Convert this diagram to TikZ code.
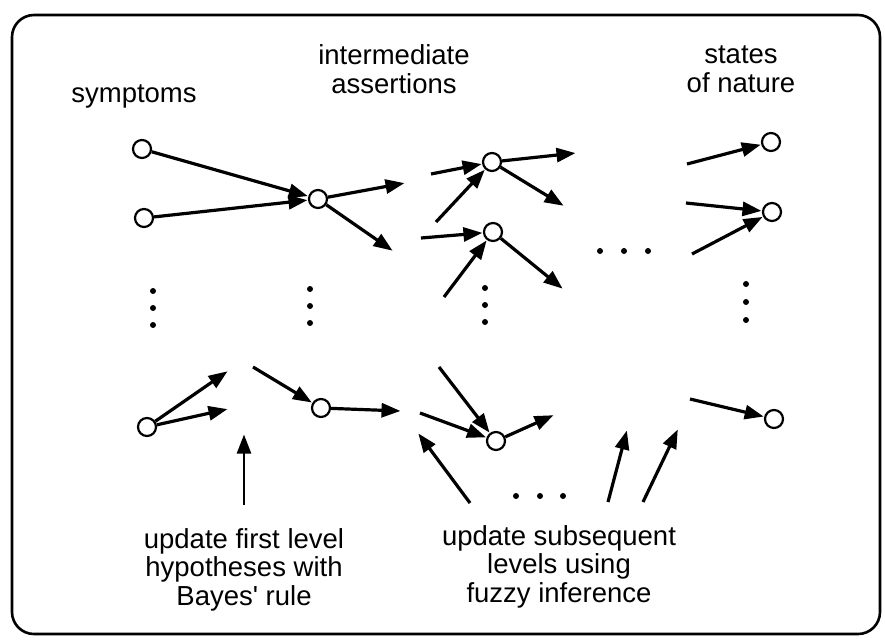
\documentclass[tikz,border=0pt]{standalone}
\usepackage{fontspec}
\setmainfont{Liberation Sans}[Ligatures=TeXOff]
\usetikzlibrary{arrows.meta}
\begin{document}
\begin{tikzpicture}[x=1pt,y=-1pt,
  hyp/.style={circle,draw,line width=2.2pt,fill=white,inner sep=0pt,minimum size=18pt},
  link/.style={line width=3.2pt,-{Triangle[length=19pt,width=14pt]},shorten >=0.5pt},
  lbl/.style={font=\fontsize{27.5}{28.5}\selectfont,align=center,anchor=base,inner sep=0pt},
  dotmark/.style={circle,fill,inner sep=0pt,minimum size=6pt}]
\useasboundingbox (0,0) rectangle (885,640);
\draw[line width=2.6pt,rounded corners=22pt] (12,15) rectangle (880,634);

% headings (base anchor = baseline of the last line)
\node[lbl] (hsym) at (134,102) {symptoms};
\node[lbl] (hint) at (394,93) {intermediate\\assertions};
\node[lbl] (hnat) at (741,92) {states\\of nature};
\node[lbl] (lbayes) at (244,605) {update first level\\hypotheses with\\Bayes' rule};
\node[lbl] (lfuzzy) at (559,602) {update subsequent\\levels using\\fuzzy inference};

% nodes
\node[hyp] (S1) at (142,149) {};
\node[hyp] (S2) at (144,218) {};
\node[hyp] (S3) at (147,427) {};
\node[hyp] (I1) at (318,199) {};
\node[hyp] (I2) at (321,408) {};
\node[hyp] (A1) at (492,162) {};
\node[hyp] (A2) at (493,232) {};
\node[hyp] (A3) at (496,441) {};
\node[hyp] (N1) at (771,142) {};
\node[hyp] (N2) at (772,212) {};
\node[hyp] (N3) at (774,419) {};

% free ends
\coordinate (i1a) at (405,183);
\coordinate (i1b) at (393,251);
\coordinate (s3a) at (228,371);
\coordinate (s3b) at (228,409);
\coordinate (i2in) at (253,367);
\coordinate (i2out) at (401,411);
\coordinate (a1in1) at (431,174);
\coordinate (a1in2) at (436,222);
\coordinate (a1o1) at (576,153);
\coordinate (a1o2) at (564,206);
\coordinate (a2in1) at (421,238);
\coordinate (a2in2) at (444,297);
\coordinate (a2o) at (563,289);
\coordinate (a3in1) at (420,413);
\coordinate (a3in2) at (439,367);
\coordinate (a3o) at (554,415);
\coordinate (n1in) at (687,164);
\coordinate (n2in1) at (686,203);
\coordinate (n2in2) at (692,254);
\coordinate (n3in) at (690,399);
\coordinate (b1s) at (244,505);
\coordinate (b1t) at (244,434);
\coordinate (b2s) at (470,503);
\coordinate (b2t) at (418,433);
\coordinate (b3s) at (608,502);
\coordinate (b3t) at (627,430);
\coordinate (b4s) at (643,502);
\coordinate (b4t) at (678,429);

% connectors
\draw[link] (S1) -- (I1);
\draw[link] (S2) -- (I1);
\draw[link] (I1) -- (i1a);
\draw[link] (I1) -- (i1b);
\draw[link] (S3) -- (s3a);
\draw[link] (S3) -- (s3b);
\draw[link] (i2in) -- (I2);
\draw[link] (I2) -- (i2out);
\draw[link] (a1in1) -- (A1);
\draw[link] (a1in2) -- (A1);
\draw[link] (A1) -- (a1o1);
\draw[link] (A1) -- (a1o2);
\draw[link] (a2in1) -- (A2);
\draw[link] (a2in2) -- (A2);
\draw[link] (A2) -- (a2o);
\draw[link] (a3in1) -- (A3);
\draw[link] (a3in2) -- (A3);
\draw[link] (A3) -- (a3o);
\draw[link] (n1in) -- (N1);
\draw[link] (n2in1) -- (N2);
\draw[link] (n2in2) -- (N2);
\draw[link] (n3in) -- (N3);
\draw[link,line width=2.4pt] (b1s) -- (b1t);
\draw[link] (b2s) -- (b2t);
\draw[link] (b3s) -- (b3t);
\draw[link] (b4s) -- (b4t);

% ellipsis dots
\foreach \x/\y [count=\i] in {153/291,153/308,153/325,310/289,310/306,310/323,485/288,485/305,485/322,746/284,746/302,746/320,600/251,624/251,648/251,516/496,540/496,563/496}
  \node[dotmark] (d\i) at (\x,\y) {};
\end{tikzpicture}
\end{document}
